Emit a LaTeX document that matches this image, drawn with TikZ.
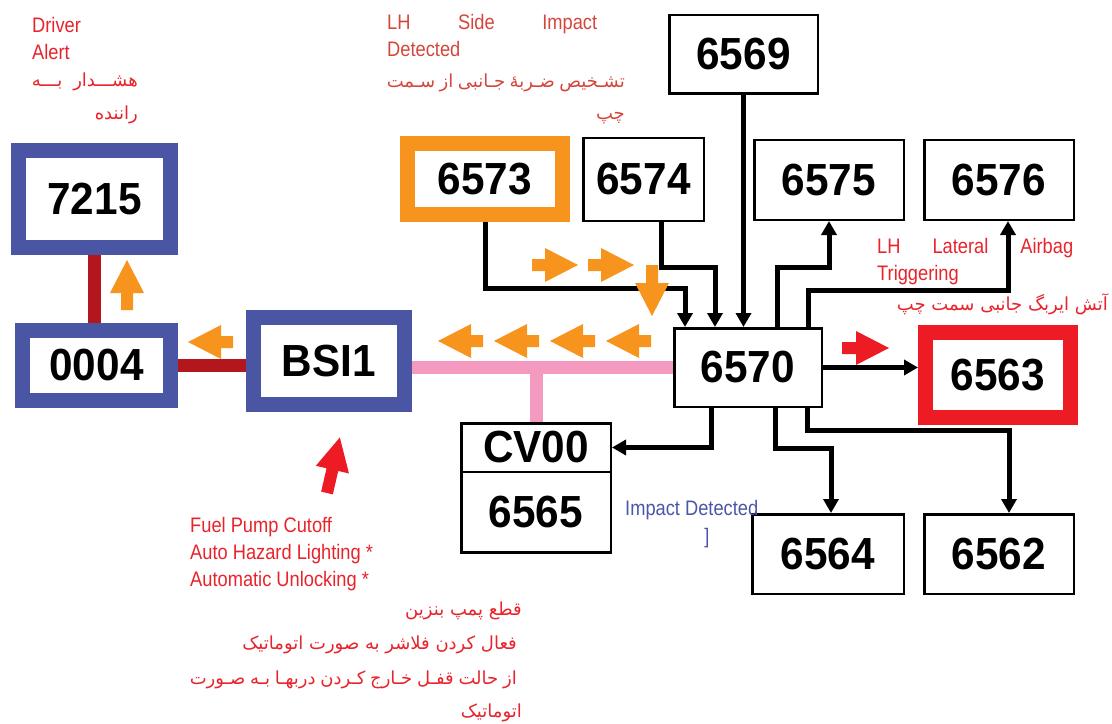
\documentclass[tikz,border=0pt]{standalone}
\usepackage{fontspec}
\setmainfont{Liberation Sans}
\newfontfamily\lblfont[FakeStretch=0.87]{Liberation Sans}
\newfontfamily\boxfont[FakeStretch=0.94]{Liberation Sans}
\newfontfamily\fafont[Script=Arabic]{DejaVu Sans}
\TeXXeTstate=1
\usepackage{xcolor}
\usetikzlibrary{arrows.meta, positioning, calc}

\definecolor{ecublue}{HTML}{4A55A3}
\definecolor{alertorange}{HTML}{F7941D}
\definecolor{alertred}{HTML}{ED1C24}
\definecolor{wirered}{HTML}{B3161D}
\definecolor{buspink}{HTML}{F49AC1}
\definecolor{labelred}{HTML}{E8232B}
\definecolor{labelbrick}{HTML}{D4463B}
\definecolor{labelblue}{HTML}{4B56A6}

\tikzset{pics/blockarrow/.style={code={
    \fill (0,-6) -- (#1-33,-6) -- (#1-33,-17) -- (#1,0) -- (#1-33,17) -- (#1-33,6) -- (0,6) -- cycle;}}}

\begin{document}
\begin{tikzpicture}[x=1bp, y=-1bp,
    ecu/.style={rectangle, draw=black, line width=2.5bp, fill=white, inner sep=0pt, minimum width=149.5bp, minimum height=79.5bp, font={\boxfont\bfseries\fontsize{45bp}{48bp}\selectfont}},
    bluebox/.style={ecu, draw=ecublue, line width=15bp},
    orangebox/.style={ecu, draw=alertorange, line width=15bp},
    redbox/.style={ecu, draw=alertred, line width=15bp},
    conn/.style={line width=5bp, -{Triangle[width=15bp, length=14bp]}},
    wire/.style={line width=13bp, wirered},
    bus/.style={line width=13bp, buspink},
    lbl/.style={font={\lblfont\fontsize{21bp}{27bp}\selectfont}, text=labelred, inner sep=0pt},
    falbl/.style={font={\fafont\fontsize{18bp}{22bp}\selectfont}, text=labelred, inner sep=0pt, anchor=base east}]
\useasboundingbox (0,0) rectangle (1112,724);

% modules
\node[bluebox, minimum width=152bp, minimum height=97bp] (n7215) at (94.5,199) {7215};
\node[bluebox, minimum width=148bp, minimum height=70bp] (n0004) at (96.5,365.5) {0004};
\node[bluebox, minimum width=151bp, minimum height=87bp] (bsi) at (329,361) {BSI1};
\node[orangebox, minimum width=155bp, minimum height=71bp] (n6573) at (485,179) {6573};
\node[ecu, minimum width=120.5bp, minimum height=82.5bp] (n6574) at (643.5,179.5) {6574};
\node[ecu, minimum width=148.5bp, minimum height=78.5bp] (n6569) at (743.5,54.5) {6569};
\node[ecu] (n6575) at (829,180) {6575};
\node[ecu, right=18bp of n6575] (n6576) {6576};
\node[ecu, minimum width=147.5bp, minimum height=78.5bp] (n6570) at (748,367.5) {6570};
\node[redbox, minimum width=145bp, minimum height=85bp] (n6563) at (998,375) {6563};
\node[ecu, minimum height=48.5bp] (cv00) at (536,447.5) {CV00};
\node[ecu, minimum height=80.5bp, below=-2.5bp of cv00] (n6565) {6565};
\node[ecu, minimum width=151.5bp] (n6564) at (828,554) {6564};
\node[ecu, right=18bp of n6564] (n6562) {6562};

% wiring
\draw[wire] (n7215.south) -- (n7215.south |- n0004.north);
\draw[wire] (n0004.east) -- (n0004.east -| bsi.west);
\draw[bus] (bsi.east |- n6570.west) -- (n6570.west);
\draw[bus] (cv00.north) -- (cv00.north |- n6570.west);

\draw[conn] (n6573.south) -- ++(0,66) -| ([xshift=-63bp]n6570.north);
\draw[conn] ([xshift=18bp]n6574.south) -- ++(0,45) -| ([xshift=-33bp]n6570.north);
\draw[conn] (n6569.south) -- (n6569.south |- n6570.north);
\draw[conn] ([xshift=29bp]n6570.north) -- ++(0,-60) -| (n6575.south);
\draw[conn] ([xshift=60bp]n6570.north) -- ++(0,-37) -| ([xshift=9bp]n6576.south);
\draw[conn] (n6570.east) -- (n6570.east -| n6563.west);
\draw[conn] ([xshift=-37bp]n6570.south) |- (cv00.east);
\draw[conn] ([xshift=27bp]n6570.south) -- ++(0,40) -| ([xshift=3bp]n6564.north);
\draw[conn] ([xshift=59bp]n6570.south) -- ++(0,22) -| ([xshift=10bp]n6562.north);

% signal flow arrows
\pic[alertorange, rotate=90] at (127,310) {blockarrow=50};
\pic[alertorange, rotate=180] at (233,342) {blockarrow=45};
\foreach \tx in {483,539,595,651}
    \pic[alertorange, rotate=180] at (\tx,341) {blockarrow=45};
\foreach \tx in {532,588}
    \pic[alertorange] at (\tx,265) {blockarrow=46};
\pic[alertorange, rotate=-90] at (652,265) {blockarrow=51};
\pic[alertred] at (842,348) {blockarrow=47};
\pic[alertred, rotate=77] at (327,493) {blockarrow=57};

% labels
\node[lbl, anchor=base west] (tDriver) at (32,33) {Driver};
\node[lbl, anchor=base west] (tAlert) at (32,60) {Alert};
\node[falbl] (tDrvFa1) at (138,87) {\makebox[106bp][s]{\beginR هشـــدار بـــه\endR}};
\node[falbl] (tDrvFa2) at (138,120) {\beginR راننده\endR};

\node[lbl, text=labelbrick, anchor=base west] (tSide1) at (387,30) {\makebox[210bp][s]{LH Side Impact}};
\node[lbl, text=labelbrick, anchor=base west] (tSide2) at (387,57) {Detected};
\node[falbl, text=labelbrick] (tSideFa1) at (625,88) {\makebox[238bp][s]{\beginR تشـخیص ضـربهٔ جـانبی از سـمت\endR}};
\node[falbl, text=labelbrick] (tSideFa2) at (625,120) {\beginR چپ\endR};

\node[lbl, anchor=base west] (tLat1) at (877,253) {\makebox[196bp][s]{LH Lateral Airbag}};
\node[lbl, anchor=base west] (tLat2) at (877,280) {Triggering};
\node[falbl] (tLatFa) at (1108,310) {\beginR آتش ایربگ جانبی سمت چپ\endR};

\foreach \txt [count=\i] in {Fuel Pump Cutoff, Auto Hazard Lighting *, Automatic Unlocking *}
    \node[lbl, anchor=base west] (tFuel\i) at (190,505+27*\i) {\txt};
\node[falbl] (tFuelFa1) at (522,615) {\beginR قطع پمپ بنزین\endR};
\node[falbl] (tFuelFa2) at (517,649) {\beginR فعال کردن فلاشر به صورت اتوماتیک\endR};
\node[falbl] (tFuelFa3) at (517,684) {\makebox[327bp][s]{\beginR از حالت قفـل خـارج کـردن دربهـا بـه صـورت\endR}};
\node[falbl] (tFuelFa4) at (522,717) {\beginR اتوماتیک\endR};

\node[lbl, text=labelblue, anchor=base west] (tImpact) at (625,515) {Impact Detected};
\node[lbl, text=labelblue, anchor=base] (tBracket) at (707,543) {]};
\end{tikzpicture}
\end{document}
